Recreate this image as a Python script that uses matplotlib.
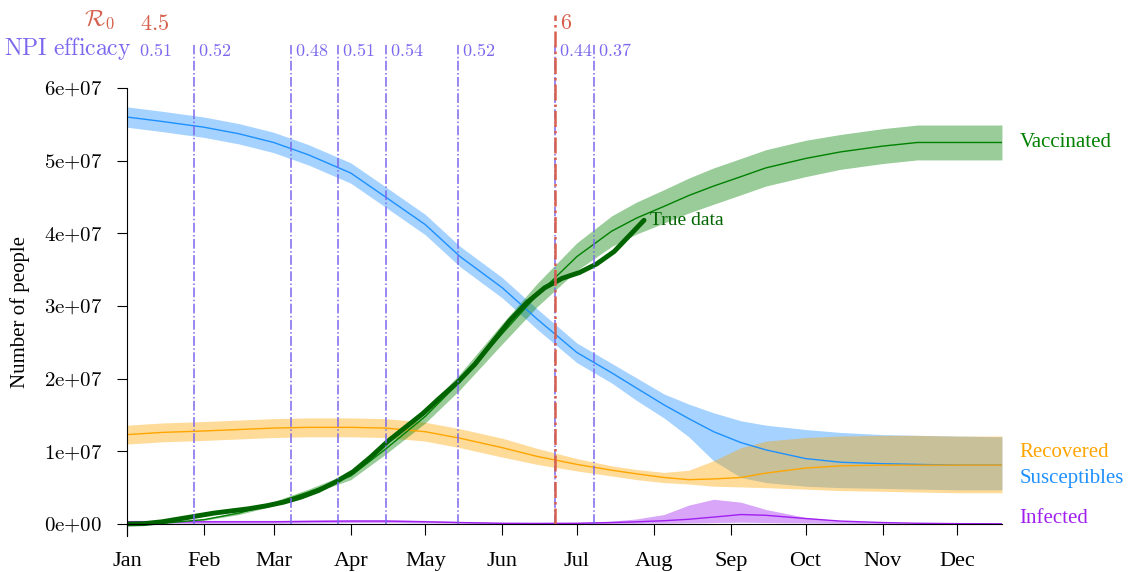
import numpy as np
import pandas as pd
import matplotlib
matplotlib.use('Agg')
import matplotlib.pyplot as plt
import matplotlib.dates as mdates
from matplotlib.ticker import FuncFormatter

plt.rcParams['font.family'] = ['Liberation Serif', 'DejaVu Serif']
plt.rcParams['mathtext.fontset'] = 'cm'

# model output, values in units of 1e7 people
dates = pd.to_datetime([
    '2021-01-01', '2021-01-15', '2021-02-01', '2021-02-15', '2021-03-01', '2021-03-15',
    '2021-04-01', '2021-04-15', '2021-05-01', '2021-05-15', '2021-06-01', '2021-06-15',
    '2021-07-01', '2021-07-15', '2021-07-25', '2021-08-05', '2021-08-15', '2021-08-25',
    '2021-09-05', '2021-09-15', '2021-10-01', '2021-10-15', '2021-11-01', '2021-11-15',
    '2021-12-01', '2021-12-19'])

susceptibles = [5.60, 5.54, 5.46, 5.37, 5.25, 5.08, 4.83, 4.50, 4.12, 3.68, 3.25, 2.82,
                2.36, 2.08, 1.87, 1.64, 1.45, 1.27, 1.12, 1.02, 0.90, 0.85, 0.83, 0.82, 0.81, 0.81]
susceptibles_hi = [5.74, 5.68, 5.60, 5.51, 5.39, 5.22, 4.97, 4.64, 4.26, 3.82, 3.39, 2.96,
                   2.49, 2.21, 2.01, 1.79, 1.65, 1.53, 1.42, 1.36, 1.30, 1.26, 1.23, 1.22, 1.21, 1.20]
susceptibles_lo = [5.46, 5.40, 5.32, 5.23, 5.11, 4.94, 4.69, 4.36, 3.98, 3.54, 3.11, 2.68,
                   2.22, 1.94, 1.70, 1.46, 1.20, 0.87, 0.64, 0.57, 0.52, 0.50, 0.49, 0.48, 0.47, 0.47]

recovered = [1.23, 1.26, 1.28, 1.30, 1.32, 1.33, 1.33, 1.32, 1.27, 1.18, 1.05, 0.93,
             0.82, 0.74, 0.69, 0.64, 0.61, 0.62, 0.64, 0.70, 0.77, 0.80, 0.81, 0.81, 0.81, 0.81]
recovered_hi = [1.36, 1.39, 1.41, 1.43, 1.45, 1.46, 1.46, 1.45, 1.40, 1.31, 1.18, 1.04,
                0.90, 0.80, 0.75, 0.71, 0.74, 0.87, 1.05, 1.14, 1.19, 1.21, 1.22, 1.22, 1.21, 1.21]
recovered_lo = [1.10, 1.13, 1.15, 1.17, 1.19, 1.20, 1.20, 1.19, 1.14, 1.05, 0.92, 0.82,
                0.73, 0.66, 0.61, 0.57, 0.55, 0.52, 0.51, 0.50, 0.48, 0.46, 0.45, 0.44, 0.43, 0.43]

infected = [0.03, 0.03, 0.03, 0.03, 0.03, 0.035, 0.04, 0.04, 0.03, 0.02, 0.01, 0.008,
            0.01, 0.02, 0.03, 0.045, 0.065, 0.095, 0.13, 0.12, 0.075, 0.04, 0.02, 0.01, 0.005, 0.003]
infected_hi = [0.05, 0.05, 0.05, 0.05, 0.05, 0.055, 0.06, 0.06, 0.05, 0.035, 0.02, 0.015,
               0.02, 0.04, 0.07, 0.13, 0.26, 0.34, 0.30, 0.20, 0.09, 0.045, 0.02, 0.01, 0.006, 0.004]
infected_lo = [0.01, 0.01, 0.01, 0.01, 0.01, 0.015, 0.02, 0.02, 0.015, 0.01, 0.004, 0.003,
               0.004, 0.008, 0.01, 0.012, 0.015, 0.02, 0.025, 0.02, 0.015, 0.01, 0.005, 0.003, 0.002, 0.001]

vaccinated = [0.0, 0.01, 0.06, 0.15, 0.28, 0.44, 0.66, 1.03, 1.48, 1.96, 2.62, 3.15,
              3.68, 4.03, 4.21, 4.37, 4.52, 4.65, 4.78, 4.90, 5.03, 5.12, 5.20, 5.25, 5.25, 5.25]
vaccinated_spread = [0.0, 0.005, 0.01, 0.02, 0.03, 0.04, 0.05, 0.07, 0.09, 0.11, 0.14, 0.16,
                     0.19, 0.21, 0.22, 0.23, 0.24, 0.25, 0.25, 0.25, 0.25, 0.24, 0.24, 0.24, 0.24, 0.24]

# observed vaccinations
true_dates = pd.to_datetime([
    '2021-01-01', '2021-01-08', '2021-01-15', '2021-01-22', '2021-01-29', '2021-02-05',
    '2021-02-12', '2021-02-19', '2021-02-26', '2021-03-05', '2021-03-12', '2021-03-19',
    '2021-03-26', '2021-04-02', '2021-04-09', '2021-04-16', '2021-04-23', '2021-04-30',
    '2021-05-07', '2021-05-14', '2021-05-21', '2021-05-28', '2021-06-04', '2021-06-11',
    '2021-06-18', '2021-06-25', '2021-07-02', '2021-07-09', '2021-07-16', '2021-07-23',
    '2021-07-28'])
true_vaccinated = [0.0, 0.005, 0.03, 0.07, 0.11, 0.15, 0.18, 0.21, 0.25, 0.30, 0.37, 0.46,
                   0.58, 0.72, 0.92, 1.14, 1.33, 1.52, 1.74, 1.95, 2.20, 2.50, 2.80, 3.05,
                   3.25, 3.38, 3.46, 3.58, 3.75, 4.00, 4.18]

# interventions
npi_dates = pd.to_datetime(['2021-01-04', '2021-01-28', '2021-03-08', '2021-03-27', '2021-04-15',
                            '2021-05-14', '2021-06-22', '2021-07-08'])
npi_efficacy = ['0.51', '0.52', '0.48', '0.51', '0.54', '0.52', '0.44', '0.37']
r0_dates = pd.to_datetime(['2021-01-04', '2021-06-22'])
r0_values = ['4.5', '6']

series_labels = ['Vaccinated', 'Recovered', 'Susceptibles', 'Infected']
series_label_y = [5.25, 0.99, 0.63, 0.08]
series_colors = ['green', 'orange', 'dodgerblue', '#a020f0']

scale = 1e7
npi_color = '#7b68ee'
r0_color = '#d6604d'

figure = plt.figure(figsize=(11.36, 5.72), dpi=100)
axes = figure.add_axes([0.1118, 0.0636, 0.7702, 0.7826])

def band(mid, lo, hi, color):
    axes.fill_between(dates, np.array(lo) * scale, np.array(hi) * scale, color=color, alpha=0.4, lw=0)
    axes.plot(dates, np.array(mid) * scale, color=color, lw=1)

band(susceptibles, susceptibles_lo, susceptibles_hi, 'dodgerblue')
band(recovered, recovered_lo, recovered_hi, 'orange')
band(infected, infected_lo, infected_hi, '#a020f0')
vacc = np.array(vaccinated)
spread = np.array(vaccinated_spread)
band(vacc, vacc - spread, vacc + spread, 'green')

axes.plot(true_dates, np.array(true_vaccinated) * scale, color='darkgreen', lw=3.5,
          solid_capstyle='round')
axes.annotate('True data', xy=(true_dates[-1], true_vaccinated[-1] * scale), xytext=(4, 0),
              textcoords='offset points', va='center', ha='left', fontsize=14, color='darkgreen')

# vertical lines for NPI changes and R0 change
for d in npi_dates[1:]:
    axes.plot([d, d], [0, 6.59e7], color=npi_color, lw=1.1, ls='-.', clip_on=False)
axes.plot([r0_dates[1], r0_dates[1]], [0, 7.0e7], color=r0_color, lw=1.8, ls='-.', clip_on=False)

for d, v in zip(npi_dates, npi_efficacy):
    axes.annotate('$' + v + '$', xy=(d, 6.5e7), xytext=(3, 0), textcoords='offset points',
                  va='center', ha='left', fontsize=13, color=npi_color, annotation_clip=False)
axes.annotate(r'$\mathrm{NPI\ efficacy}$', xy=(npi_dates[0], 6.5e7), xytext=(-2, 2),
              textcoords='offset points', va='center', ha='right', fontsize=17, color=npi_color,
              annotation_clip=False)
for d, v in zip(r0_dates, r0_values):
    axes.annotate('$' + v + '$', xy=(d, 6.87e7), xytext=(4, 0), textcoords='offset points',
                  va='center', ha='left', fontsize=16, color=r0_color, annotation_clip=False)
axes.annotate(r'$\mathcal{R}_0$', xy=(npi_dates[0], 6.94e7), xytext=(-14, 0),
              textcoords='offset points', va='center', ha='right', fontsize=17, color=r0_color,
              annotation_clip=False)

label_x = dates[-1] + pd.Timedelta(days=7)
for text, y, c in zip(series_labels, series_label_y, series_colors):
    axes.text(label_x, y * scale, text, color=c, fontsize=15, va='center', ha='left')

axes.set_xlim(dates[0], dates[-1])
axes.set_ylim(-1.6e6, 6e7)
axes.set_yticks(np.arange(0, 7) * scale)
axes.yaxis.set_major_formatter(FuncFormatter(lambda v, p: r'$%d\mathrm{e}{+}%02d$' % (round(v / scale), 7 if v else 0)))
axes.xaxis.set_major_locator(mdates.MonthLocator())
axes.xaxis.set_major_formatter(mdates.DateFormatter('%b'))
axes.spines['top'].set_visible(False)
axes.spines['right'].set_visible(False)
axes.spines['bottom'].set_position(('data', 0))
axes.tick_params(axis='x', length=8, labelsize=16, pad=12)
axes.tick_params(axis='y', length=7, labelsize=15, pad=11)
axes.set_ylabel('Number of people', fontsize=15, labelpad=10)
figure.savefig('out.png', dpi=100)
